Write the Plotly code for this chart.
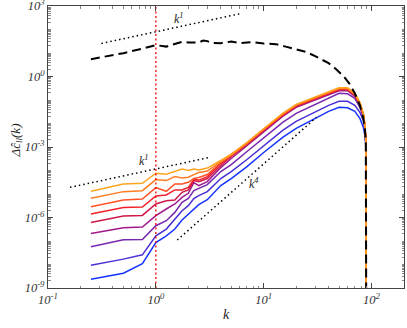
import plotly.graph_objects as go

# wavenumbers shared by the coloured spectra
k = [0.25, 0.5, 0.75, 1, 1.25, 1.5, 1.75, 2, 2.25, 2.5, 3, 4, 5, 7, 10, 15, 20,
     30, 40, 50, 60, 70, 78, 84, 87, 88.5, 89.5]

# coloured spectra, top (orange) to bottom (blue) at low k
c1 = [1.30e-5, 2.69e-5, 2.85e-5, 7.62e-5, 6.91e-5, 9.46e-5, 1.15e-4, 9.94e-5, 1.15e-4, 1.04e-4,
      1.27e-4, 2.66e-4, 4.79e-4, 1.56e-3, 6.18e-3, 2.70e-2, 6.54e-2, 0.137, 0.235, 0.331, 0.331,
      0.193, 7.96e-2, 2.70e-2, 8.30e-3, 1.90e-3, 1e-12]
c2 = [6.53e-6, 1.26e-5, 1.39e-5, 4.10e-5, 3.72e-5, 5.51e-5, 4.85e-5, 5.14e-5, 6.71e-5, 8.17e-5,
      9.46e-5, 2.41e-4, 4.56e-4, 1.49e-3, 5.88e-3, 2.57e-2, 6.22e-2, 0.130, 0.224, 0.315, 0.315,
      0.184, 7.58e-2, 2.57e-2, 7.90e-3, 1.81e-3, 1e-12]
c3 = [2.88e-6, 5.57e-6, 6.15e-6, 1.87e-5, 1.30e-5, 2.69e-5, 2.69e-5, 3.15e-5, 4.53e-5, 5.00e-5,
      6.71e-5, 2.18e-4, 4.35e-4, 1.41e-3, 5.60e-3, 2.45e-2, 5.93e-2, 0.124, 0.213, 0.300, 0.300,
      0.175, 7.21e-2, 2.45e-2, 7.52e-3, 1.72e-3, 1e-12]
c4 = [1.41e-6, 2.69e-6, 2.80e-6, 8.26e-6, 9.12e-6, 1.49e-5, 1.49e-5, 1.92e-5, 4.10e-5, 3.91e-5,
      5.51e-5, 1.98e-4, 4.14e-4, 1.35e-3, 5.33e-3, 2.33e-2, 5.64e-2, 0.118, 0.203, 0.286, 0.286,
      0.166, 6.87e-2, 2.33e-2, 7.16e-3, 1.64e-3, 1e-12]
c5 = [6.17e-7, 1.16e-6, 1.23e-6, 3.77e-6, 5.20e-6, 5.57e-6, 1.18e-5, 1.49e-5, 3.72e-5, 3.37e-5,
      4.53e-5, 1.63e-4, 3.94e-4, 1.28e-3, 5.07e-3, 2.22e-2, 5.37e-2, 0.112, 0.193, 0.272, 0.272,
      0.158, 6.54e-2, 2.22e-2, 6.81e-3, 1.56e-3, 1e-12]
c6 = [2.09e-7, 3.66e-7, 3.92e-7, 1.19e-6, 2.30e-6, 3.77e-6, 7.20e-6, 1.07e-5, 3.05e-5, 2.28e-5,
      3.37e-5, 1.33e-4, 3.24e-4, 1.16e-3, 4.60e-3, 2.01e-2, 4.87e-2, 0.102, 0.175, 0.247, 0.247,
      0.144, 5.93e-2, 2.01e-2, 6.18e-3, 1.41e-3, 1e-12]
c7 = [5.65e-8, 1.12e-7, 1.16e-7, 4.46e-7, 7.28e-7, 1.65e-6, 4.41e-6, 6.53e-6, 1.39e-5, 1.69e-5,
      2.51e-5, 9.01e-5, 1.79e-4, 6.44e-4, 2.55e-3, 1.11e-2, 2.70e-2, 6.54e-2, 0.124, 0.193, 0.184,
      0.118, 4.87e-2, 1.82e-2, 6.18e-3, 1.72e-3, 1e-12]
c8 = [9.35e-9, 1.69e-8, 2.58e-8, 1.67e-7, 3.22e-7, 8.61e-7, 1.95e-6, 3.18e-6, 6.34e-6, 8.51e-6,
      1.26e-5, 4.53e-5, 9.01e-5, 2.93e-4, 1.16e-3, 5.07e-3, 1.23e-2, 2.98e-2, 5.93e-2, 8.79e-2,
      8.79e-2, 5.93e-2, 2.98e-2, 1.36e-2, 5.07e-3, 1.56e-3, 1e-12]
c9 = [2.36e-9, 4.26e-9, 1.09e-8, 8.63e-8, 1.67e-7, 3.22e-7, 7.80e-7, 1.41e-6, 2.37e-6, 3.51e-6,
      5.74e-6, 2.28e-5, 4.53e-5, 1.47e-4, 5.83e-4, 2.55e-3, 6.18e-3, 1.65e-2, 3.29e-2, 4.87e-2,
      4.63e-2, 3.29e-2, 1.65e-2, 6.81e-3, 2.81e-3, 1.05e-3, 1e-12]

series = [c1, c2, c3, c4, c5, c6, c7, c8, c9]
colors = ["#ffa41f", "#ff7d22", "#ff5226", "#f2202a", "#cf1848",
          "#a0198a", "#7a26ad", "#4a2ed6", "#1634ff"]

# black dashed spectrum
k_dash = [0.25, 0.5, 0.75, 1, 1.25, 1.5, 1.75, 2, 2.5, 2.75, 3, 3.25, 4, 5, 6, 7, 8, 10, 13,
          16, 20, 25, 30, 35, 40, 47, 55, 62, 70, 78, 84, 87, 88.5, 89.5]
dash_vals = [5.46, 9.84, 15.3, 21.6, 18.7, 25.1, 29.9, 28.2, 28.2, 33.7, 32.1, 27.1, 26.3, 30.5,
             26.3, 27.7, 29.0, 25.1, 23.8, 18.7, 14.6, 10.9, 7.33, 5.20, 3.68, 2.04, 1.03, 0.515,
             0.193, 0.0593, 0.0165, 5.07e-3, 1.41e-3, 1e-12]

# power-law guide lines (end points)
k1_top_x = [0.313, 6.27]
k1_top_y = [25.5, 488]
k1_low_x = [0.16, 3.11]
k1_low_y = [1.92e-5, 3.57e-4]
k4_x = [1.58, 30.8]
k4_y = [1.10e-7, 1.82e-2]

x_ticks = [0.1, 1, 10, 100]
x_ticktext = ["10<sup>-1</sup>", "10<sup>0</sup>", "10<sup>1</sup>", "10<sup>2</sup>"]
y_ticks = [1e-9, 1e-6, 1e-3, 1, 1e3]
y_ticktext = ["10<sup>-9</sup>", "10<sup>-6</sup>", "10<sup>-3</sup>", "10<sup>0</sup>", "10<sup>3</sup>"]

serif = "Liberation Serif"
axis_col = "#444444"

fig = go.Figure()

for vals, col in reversed(list(zip(series, colors))):
    fig.add_trace(go.Scatter(x=k, y=vals, mode="lines",
                             line={"color": col, "width": 1.5}, showlegend=False))

fig.add_trace(go.Scatter(x=k_dash, y=dash_vals, mode="lines",
                         line={"color": "black", "width": 2, "dash": "9px,5px"},
                         showlegend=False))

for gx, gy in [(k1_top_x, k1_top_y), (k1_low_x, k1_low_y), (k4_x, k4_y)]:
    fig.add_trace(go.Scatter(x=gx, y=gy, mode="lines",
                             line={"color": "black", "width": 1.5, "dash": "1.5px,3px"},
                             showlegend=False))

fig.add_trace(go.Scatter(x=[1, 1], y=[1e-9, 1e3], mode="lines",
                         line={"color": "#ff0000", "width": 1.3, "dash": "2px,2.5px"},
                         showlegend=False))

label_font = {"family": serif, "size": 12, "color": "#222222", "style": "italic"}
for lx, ly, txt in [(0.217, 2.45, "k<sup>1</sup>"), (-0.106, -3.575, "k<sup>1</sup>"),
                    (0.908, -4.558, "k<sup>4</sup>")]:
    fig.add_annotation(x=lx, y=ly, text=txt, showarrow=False, font=label_font)

# y-axis title placed by hand so the margins stay fixed
fig.add_annotation(xref="paper", yref="paper", x=-0.118, y=0.525, textangle=-90,
                   text="<i>Δĉ<sub>ll</sub>(k)</i>", showarrow=False,
                   font={"family": serif, "size": 13, "color": "#222222"})

axis_common = dict(
    showline=True, linecolor=axis_col, linewidth=1, mirror="ticks", automargin=False,
    ticks="inside", ticklen=5, tickcolor=axis_col, showgrid=False, zeroline=False,
    ticklabeloverflow="allow",
    tickfont={"family": serif, "size": 12.5, "color": "#333333", "style": "italic"},
    minor={"ticks": "inside", "ticklen": 2.5, "tickcolor": "#888888", "dtick": "D1",
           "showgrid": False},
)

fig.update_xaxes(type="log", range=[-1, 2.301], tickvals=x_ticks, ticktext=x_ticktext,
                 title={"text": "<i>k</i>", "standoff": 3,
                        "font": {"family": serif, "size": 14, "color": "#222222"}},
                 **axis_common)
fig.update_yaxes(type="log", range=[-9, 3], tickvals=y_ticks, ticktext=y_ticktext,
                 **axis_common)

fig.update_layout(
    width=407, height=328,
    margin={"l": 48, "r": 3, "t": 6, "b": 40},
    plot_bgcolor="white",
    paper_bgcolor="white",
    showlegend=False,
)

# the page's default body margin would shift the figure
fig.write_html("out.html", config={"displayModeBar": False},
               post_script="document.body.style.margin='0';")
